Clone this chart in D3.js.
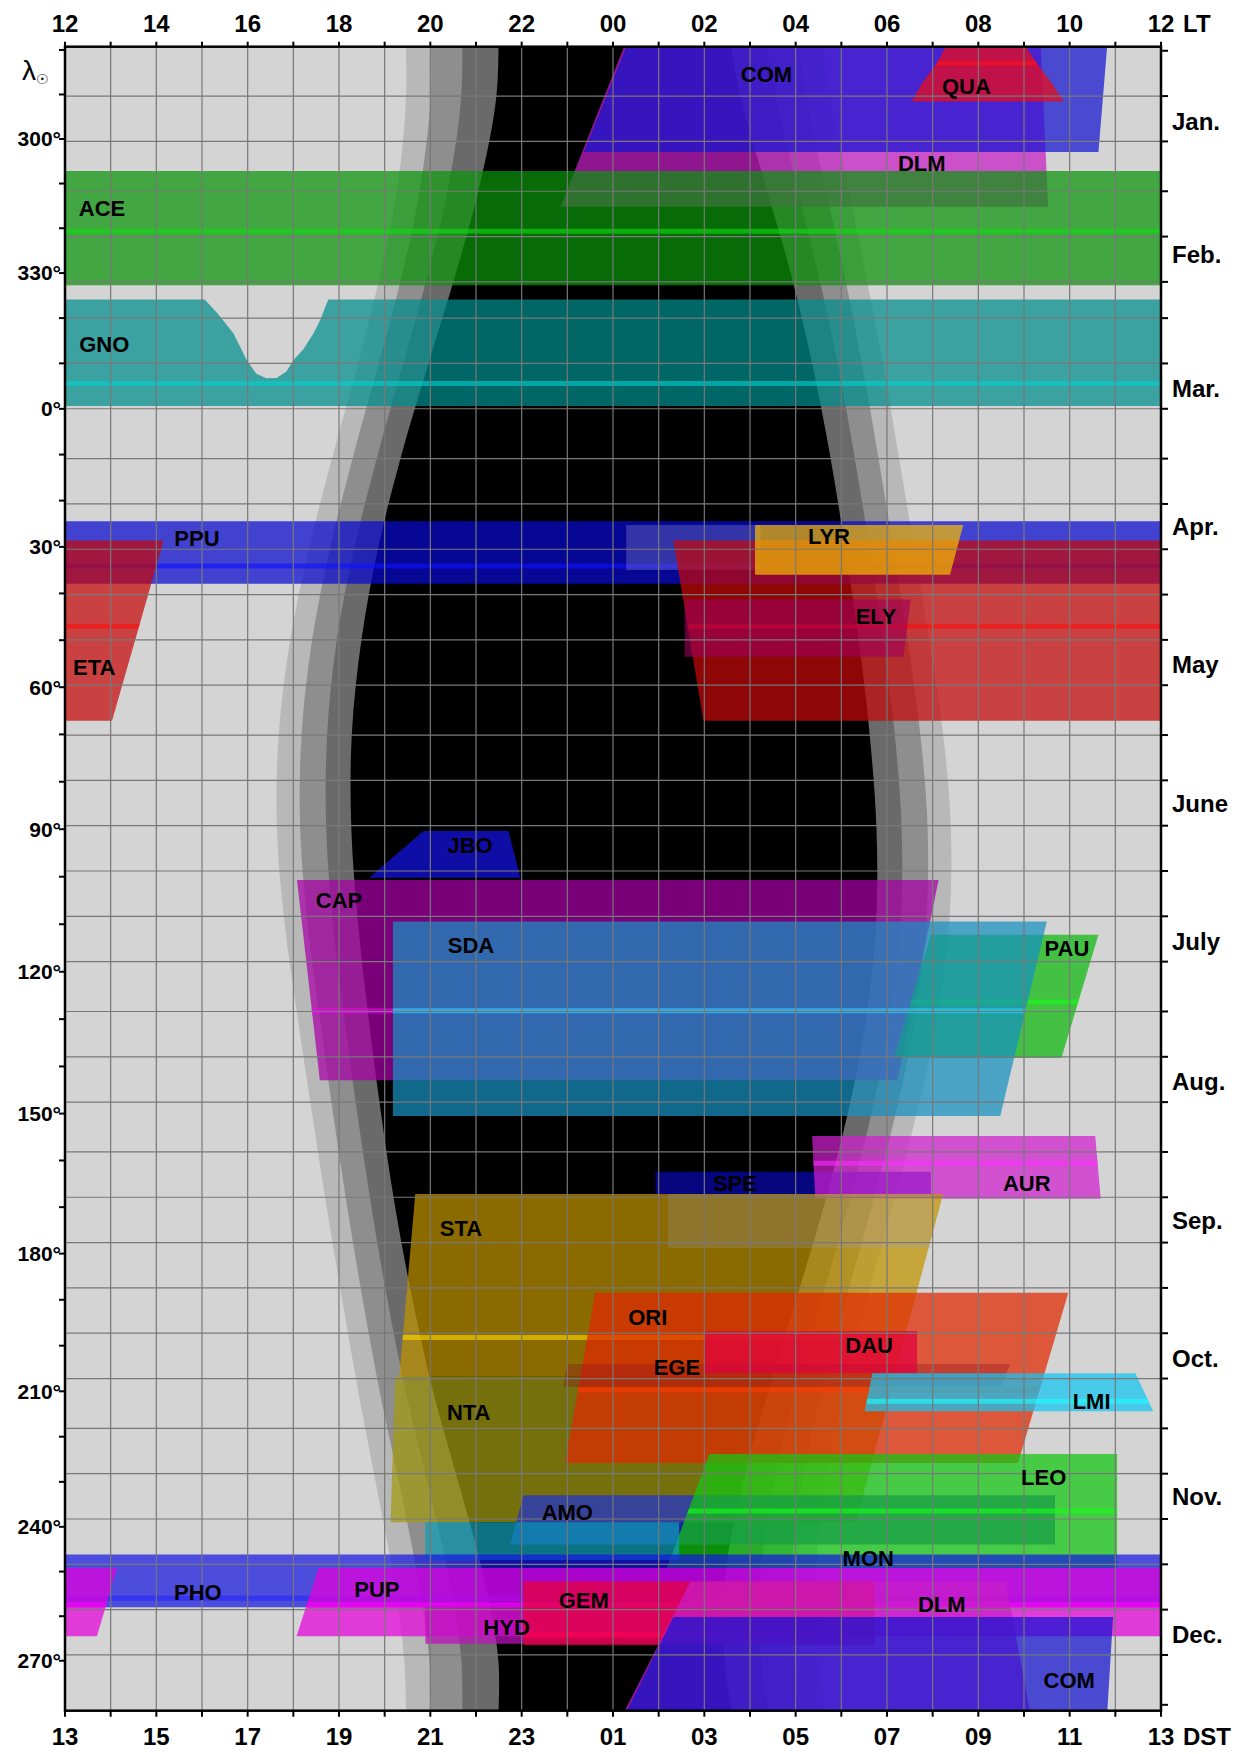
<!DOCTYPE html>
<html>
<head>
<meta charset="utf-8">
<script src="https://cdn.jsdelivr.net/npm/d3@7"></script>
<style>
  body { margin: 0; background: #fff; }
  svg text { font-family: "Liberation Sans", Arial, sans-serif; }
</style>
</head>
<body>
<div id="chart"></div>
<script>
// ---- data -------------------------------------------------------------
// twilight boundaries (local time, hours; >24 = after midnight) read at solar longitudes
// (unwrapped: values > 360 belong to the next year)
const twilightLam = [270, 290, 310, 330, 350, 370, 390, 410, 430, 450, 470, 490, 510, 530, 550, 570, 590, 610, 630, 650];
const sunsetH      = [19.43, 19.47, 19.29, 18.91, 18.42, 17.87, 17.35, 16.93, 16.68, 16.64, 16.81, 17.10, 17.41, 17.73, 18.07, 18.42, 18.80, 19.17, 19.43, 19.47];
const civilEndH    = [19.98, 20.01, 19.79, 19.39, 18.87, 18.32, 17.81, 17.41, 17.18, 17.15, 17.31, 17.58, 17.87, 18.18, 18.52, 18.89, 19.31, 19.70, 19.98, 20.01];
const nautEndH     = [20.68, 20.68, 20.41, 19.95, 19.41, 18.85, 18.34, 17.95, 17.74, 17.72, 17.87, 18.12, 18.40, 18.71, 19.06, 19.46, 19.93, 20.38, 20.68, 20.68];
const astroEndH    = [21.49, 21.45, 21.09, 20.56, 19.96, 19.37, 18.86, 18.49, 18.28, 18.27, 18.42, 18.65, 18.92, 19.23, 19.61, 20.06, 20.61, 21.14, 21.49, 21.45];
const astroStartH  = [26.44, 26.78, 27.33, 27.89, 28.36, 28.75, 29.08, 29.38, 29.62, 29.77, 29.76, 29.54, 29.14, 28.61, 28.01, 27.40, 26.85, 26.47, 26.44, 26.78];
const nautStartH   = [27.25, 27.55, 28.01, 28.49, 28.92, 29.28, 29.61, 29.91, 30.17, 30.32, 30.30, 30.07, 29.66, 29.14, 28.57, 28.00, 27.53, 27.24, 27.25, 27.55];
const civilStartH  = [27.95, 28.22, 28.63, 29.06, 29.45, 29.80, 30.13, 30.45, 30.73, 30.89, 30.86, 30.62, 30.19, 29.66, 29.10, 28.57, 28.15, 27.91, 27.95, 28.22];
const sunriseH     = [28.50, 28.75, 29.13, 29.53, 29.91, 30.25, 30.59, 30.93, 31.23, 31.40, 31.36, 31.10, 30.65, 30.11, 29.56, 29.04, 28.65, 28.45, 28.50, 28.75];

// shower visibility bands: [hour, solar longitude] corners, in drawing order
// ('' = unlabelled band; 642 = past the year end)
const bandNames = ['DLM', 'COM', 'QUA', 'ACE', 'GNO', 'PPU', '', 'ETA', 'LYR', 'ELY', 'JBO', 'CAP', 'PAU', 'SDA',
  'SPE', 'AUR', 'STA', 'NTA', '', 'ORI', 'EGE', 'DAU', 'LMI', 'AMO', 'LEO', '', 'PHO', 'PUP', 'HYD', 'GEM', 'DLM', 'COM'];
const bandPolys = [
  [[24.29, 278], [33.36, 278], [33.53, 315.2], [22.85, 315.2]],
  [[24.34, 278], [34.83, 278], [34.63, 302.95], [23.36, 302.95]],
  [[31.35, 278], [32.96, 278], [33.28, 283.0], [33.61, 287.5], [33.87, 291.6], [30.54, 291.6], [30.77, 287.5], [31.09, 283.0]],
  [[12, 307.2], [36, 307.2], [36, 332.7], [12, 332.7]],
  [[12, 335.9], [15.06, 335.9], [15.36, 339.2], [15.69, 343.4], [15.98, 349.3], [16.19, 352.3], [16.41, 353.3], [16.63, 353.2],
   [16.85, 351.8], [17.00, 349.3], [17.22, 346.9], [17.44, 343.4], [17.61, 340.0], [17.70, 337.5], [17.77, 335.9],
   [36, 335.9], [36, 359.37], [12, 359.37]],
  [[12, 24.46], [36, 24.46], [36, 37.95], [12, 37.95]],
  [[24.29, 25.3], [27.23, 25.3], [27.23, 35.0], [24.29, 35.0]],
  [[25.32, 28.6], [38.16, 28.6], [37.03, 67.1], [25.98, 67.1]],
  [[27.11, 25.3], [31.67, 25.3], [31.38, 36.0], [27.11, 36.0]],
  [[25.57, 41.3], [30.52, 41.3], [30.36, 53.5], [25.57, 53.5]],
  [[19.85, 90.4], [21.71, 90.4], [21.97, 100.2], [18.66, 100.2]],
  [[17.08, 100.7], [31.13, 100.7], [30.23, 142.9], [17.58, 142.9]],
  [[30.96, 112.2], [34.63, 112.2], [33.82, 138.2], [30.15, 138.2]],
  [[19.18, 109.4], [33.50, 109.4], [32.48, 150.5], [19.18, 150.5]],
  [[24.93, 162.4], [30.96, 162.4], [30.96, 167.2], [24.93, 167.2]],
  [[28.36, 154.8], [34.56, 154.8], [34.68, 168.2], [28.43, 168.2]],
  [[19.67, 167.2], [31.23, 167.2], [30.15, 206.8], [19.32, 206.8]],
  [[19.23, 206.8], [30.17, 206.8], [29.32, 239.0], [19.13, 239.0]],
  [[25.20, 167.2], [30.96, 167.2], [30.96, 178.8], [25.20, 178.8]],
  [[23.61, 188.5], [33.97, 188.5], [32.87, 225.8], [22.95, 225.8]],
  [[23.00, 204.0], [32.70, 204.0], [32.50, 209.0], [22.90, 209.0]],
  [[26.01, 196.8], [30.66, 196.8], [30.66, 206.05], [26.01, 206.05]],
  [[29.68, 206.05], [35.44, 206.05], [35.83, 214.4], [29.51, 214.4]],
  [[22.04, 233.0], [33.68, 233.0], [33.68, 243.96], [21.75, 243.96]],
  [[26.11, 223.8], [35.04, 223.8], [35.04, 249.2], [25.18, 249.2]],
  [[19.89, 239.0], [25.45, 239.0], [25.45, 247.4], [19.89, 247.4]],
  [[12, 246.2], [36, 246.2], [36, 257.97], [12, 257.97]],
  [[17.55, 249.2], [37.14, 249.2], [36.70, 264.5], [17.07, 264.5]],
  [[19.89, 257.7], [29.00, 257.7], [29.00, 266.2], [19.89, 266.2]],
  [[22.04, 252.2], [29.73, 252.2], [29.73, 266.5], [22.04, 266.5]],
  [[25.70, 252.2], [32.60, 252.2], [33.14, 642], [24.22, 642]],
  [[25.32, 260.2], [34.95, 260.2], [34.82, 642], [24.27, 642]]
];
// solar longitude of the activity maximum (bright line), null where none is drawn
const bandPeaks = [null, null, 283.0, 320.7, 354.45, 34.1, null, 47.0, null, null, null, 128.25, 126.4, 128.25,
  null, 160.6, 198.2, null, null, 209.7, null, null, 212.2, null, 236.5, null, 256.0, 257.5, null, 264.2, null, null];

// shower labels: name, hour, solar longitude
const labelText = ['COM', 'QUA', 'DLM', 'ACE', 'GNO', 'PPU', 'LYR', 'ELY', 'ETA', 'JBO', 'CAP', 'SDA', 'PAU', 'AUR', 'SPE',
  'STA', 'ORI', 'DAU', 'EGE', 'LMI', 'NTA', 'LEO', 'AMO', 'MON', 'PHO', 'PUP', 'GEM', 'DLM', 'HYD', 'COM'];
const labelHour = [27.36, 31.74, 30.76, 12.81, 12.86, 14.89, 28.73, 29.76, 12.64, 20.87, 18.00, 20.89, 33.94, 33.06, 26.67,
  20.67, 24.76, 29.61, 25.40, 34.48, 20.84, 33.43, 23.00, 29.59, 14.91, 18.83, 23.36, 31.20, 21.67, 33.99];
const labelLam = [285.37, 288.13, 305.46, 315.47, 345.82, 28.08, 27.6, 44.9, 55.63, 93.43, 104.95, 114.36, 115.1, 164.83, 164.83,
  174.45, 193.82, 199.92, 204.58, 212.2, 214.66, 229.0, 236.71, 246.93, 254.68, 253.9, 256.43, 257.2, 262.45, 274.26];

// axes
const ltLabels = ['12', '14', '16', '18', '20', '22', '00', '02', '04', '06', '08', '10', '12'];
const dstLabels = ['13', '15', '17', '19', '21', '23', '01', '03', '05', '07', '09', '11', '13'];
const lamTickLabels = ['300°', '330°', '0°', '30°', '60°', '90°', '120°', '150°', '180°', '210°', '240°', '270°'];
const monthNames = ['Jan.', 'Feb.', 'Mar.', 'Apr.', 'May', 'June', 'July', 'Aug.', 'Sep.', 'Oct.', 'Nov.', 'Dec.'];
const monthDays = [31, 28, 31, 30, 31, 30, 31, 31, 30, 31, 30, 31];

// ---- styles -----------------------------------------------------------
const bandColors = ['#c81ec8', '#1414d0', '#f00a14', '#0a960a', '#008e8e', '#0a0ad0', '#a0a0d8', '#c50808', '#f2ba00',
  '#a0005a', '#1414e8', '#a800a8', '#0cb80c', '#1690c0', '#0808b0', '#d01ed0', '#c09300', '#a29b11', '#a0a0d8',
  '#e12800', '#901020', '#e00040', '#13c5f2', '#2030d0', '#10c810', '#10a0b8', '#1818e0', '#e600dc', '#c010c0',
  '#e80038', '#c81ec8', '#1414d0'];
const bandAlpha = [0.72, 0.72, 0.72, 0.72, 0.72, 0.72, 0.3, 0.72, 0.72, 0.6, 0.72, 0.72, 0.72, 0.72,
  0.72, 0.72, 0.72, 0.72, 0.2, 0.72, 0.35, 0.72, 0.72, 0.72, 0.72, 0.72, 0.72, 0.72, 0.72, 0.72, 0.72, 0.72];
const twilightFill = ['#b8b8b8', '#8e8e8e', '#6a6a6a', '#000000'];

// ---- scales -----------------------------------------------------------
const pL = 65, pR = 1161, pT = 46.7, pB = 1710.7;
const x = d3.scaleLinear().domain([12, 36]).range([pL, pR]);
const yDay = d3.scaleLinear().domain([-0.9, 366.3]).range([pT, pB]); // day of year, linear

// the vertical axis is linear in date; solar longitude is placed at its date
const DEG = Math.PI / 180;
function lamOfDay(D) {
  const u = D - 0.2, m = (357.53 + 0.9856 * u) * DEG;
  return 280.46 + 0.9856 * u + 1.915 * Math.sin(m) + 0.02 * Math.sin(2 * m);
}
function dayOfLam(lu) {
  let D = (lu - 280.46) / 0.9856;
  for (let k = 0; k < 6; k++) D += (lu - lamOfDay(D)) / 0.9856;
  return D;
}
const unwrap = l => (l < 275 ? l + 360 : l);
const yU = lu => yDay(dayOfLam(lu));
const yL = l => yU(unwrap(l));

// ---- svg --------------------------------------------------------------
const svg = d3.select('#chart').append('svg').attr('width', 1248).attr('height', 1754);
svg.append('rect').attr('width', 1248).attr('height', 1754).attr('fill', '#fff');

const defs = svg.append('defs');
defs.append('clipPath').attr('id', 'plotClip')
  .append('rect').attr('x', pL).attr('y', pT).attr('width', pR - pL).attr('height', pB - pT);

const plot = svg.append('g').attr('clip-path', 'url(#plotClip)');
plot.append('rect').attr('x', pL).attr('y', pT).attr('width', pR - pL).attr('height', pB - pT)
  .attr('fill', '#d4d4d4');

// twilight and night
const twi = twilightLam.map((l, i) => ({
  l,
  e: [sunsetH[i], civilEndH[i], nautEndH[i], astroEndH[i]],
  m: [sunriseH[i], civilStartH[i], nautStartH[i], astroStartH[i]]
}));
twilightFill.forEach((fill, k) => {
  const area = d3.area().curve(d3.curveCatmullRom)
    .y(d => yU(d.l)).x0(d => x(d.e[k])).x1(d => x(d.m[k]));
  plot.append('path').attr('d', area(twi)).attr('fill', fill);
});

// bands
const line = d3.line();
const bandPath = (poly, dx) => line(poly.map(p => [x(p[0] + dx), yL(p[1])])) + 'Z';
bandPolys.forEach((poly, i) => {
  const d = bandPath(poly, 0) + ' ' + bandPath(poly, -24);
  plot.append('path').attr('d', d).attr('fill', bandColors[i]).attr('fill-opacity', bandAlpha[i]);
  if (bandPeaks[i] != null) {
    defs.append('clipPath').attr('id', 'band' + i).append('path').attr('d', d);
    const py = yL(bandPeaks[i]);
    plot.append('g').attr('clip-path', `url(#band${i})`)
      .append('line').attr('x1', pL).attr('x2', pR).attr('y1', py).attr('y2', py)
      .attr('stroke', d3.color(bandColors[i]).brighter(1.1)).attr('stroke-width', 5).attr('stroke-opacity', 0.6);
  }
});

// grid
const dayTicks = [];
let start = 0;
monthDays.forEach(n => { dayTicks.push(start, start + 10, start + 20); start += n; });
dayTicks.push(start);
const grid = svg.append('g').attr('stroke', '#787878').attr('stroke-width', 1.2);
d3.range(13, 36).forEach(h => grid.append('line').attr('x1', x(h)).attr('x2', x(h)).attr('y1', pT).attr('y2', pB));
dayTicks.filter(d => d > 0 && d < 365).forEach(d =>
  grid.append('line').attr('x1', pL).attr('x2', pR).attr('y1', yDay(d)).attr('y2', yDay(d)));

// labels of showers
const lab = svg.append('g').attr('font-size', 22).attr('font-weight', 'bold').attr('fill', '#000')
  .attr('text-anchor', 'middle');
labelText.forEach((t, i) => lab.append('text').attr('x', x(labelHour[i])).attr('y', yL(labelLam[i]))
  .attr('dy', '0.36em').text(t));

// frame and ticks
const ax = svg.append('g').attr('stroke', '#000');
ax.append('rect').attr('x', pL).attr('y', pT).attr('width', pR - pL).attr('height', pB - pT)
  .attr('fill', 'none').attr('stroke-width', 2.5);
d3.range(12, 37).forEach(h => {
  ax.append('line').attr('x1', x(h)).attr('x2', x(h)).attr('y1', pT).attr('y2', pT - 5).attr('stroke-width', 2);
  ax.append('line').attr('x1', x(h)).attr('x2', x(h)).attr('y1', pB).attr('y2', pB + 6).attr('stroke-width', 2);
});
d3.range(280, 640, 10).forEach(lu =>
  ax.append('line').attr('x1', pL - 6).attr('x2', pL).attr('y1', yU(lu)).attr('y2', yU(lu)).attr('stroke-width', 2));
dayTicks.forEach(d =>
  ax.append('line').attr('x1', pR).attr('x2', pR + 7).attr('y1', yDay(d)).attr('y2', yDay(d)).attr('stroke-width', 2));

const txt = svg.append('g').attr('font-weight', 'bold').attr('fill', '#000');
ltLabels.forEach((t, i) => txt.append('text').attr('x', x(12 + 2 * i)).attr('y', 32)
  .attr('font-size', 24).attr('text-anchor', 'middle').text(t));
txt.append('text').attr('x', 1183).attr('y', 32).attr('font-size', 24).text('LT');
dstLabels.forEach((t, i) => txt.append('text').attr('x', x(12 + 2 * i)).attr('y', 1745)
  .attr('font-size', 24).attr('text-anchor', 'middle').text(t));
txt.append('text').attr('x', 1183).attr('y', 1745).attr('font-size', 24).text('DST');
lamTickLabels.forEach((t, i) => txt.append('text').attr('x', pL - 4).attr('y', yU(300 + 30 * i))
  .attr('dy', '0.35em').attr('font-size', 21).attr('text-anchor', 'end').text(t));
let m0 = 0;
monthNames.forEach((t, i) => {
  txt.append('text').attr('x', 1172).attr('y', yDay(m0 + monthDays[i] / 2)).attr('dy', '0.36em')
    .attr('font-size', 24).text(t);
  m0 += monthDays[i];
});
const lam = svg.append('text').attr('x', 22).attr('y', 80).attr('font-family', '"Liberation Serif", serif')
  .attr('font-size', 28).attr('fill', '#000');
lam.append('tspan').text('λ');
lam.append('tspan').attr('font-size', 14).attr('dy', 4).attr('font-family', '"DejaVu Sans", sans-serif').text('☉');
</script>
</body>
</html>
